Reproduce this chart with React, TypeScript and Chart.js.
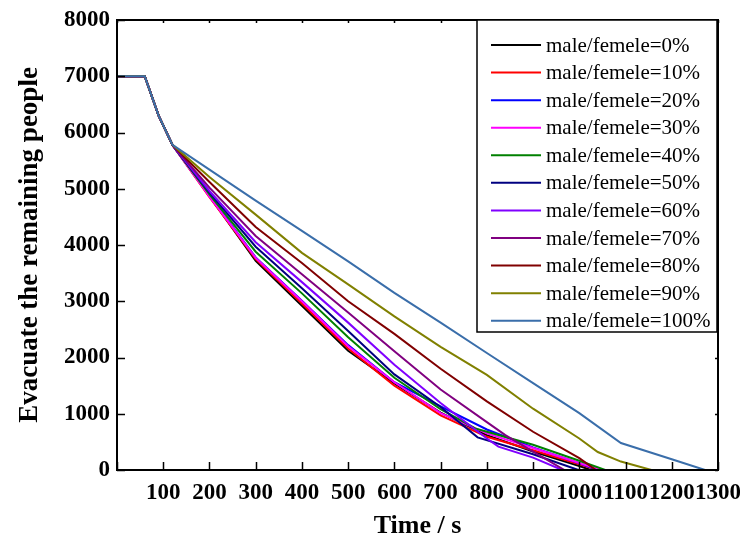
import React, { useEffect, useRef } from "react";
import { Chart, registerables } from "chart.js";

Chart.register(...registerables);

// ---------------- data ----------------
const seriesLabels = [
  "male/femele=0%",
  "male/femele=10%",
  "male/femele=20%",
  "male/femele=30%",
  "male/femele=40%",
  "male/femele=50%",
  "male/femele=60%",
  "male/femele=70%",
  "male/femele=80%",
  "male/femele=90%",
  "male/femele=100%",
];

const seriesColors = [
  "#000000",
  "#FF0000",
  "#0000FF",
  "#FF00FF",
  "#008000",
  "#000080",
  "#8000FF",
  "#800080",
  "#800000",
  "#808000",
  "#3A6EAA",
];

// shared start of every curve (time s, people)
const headTimes = [0, 60, 90, 120];
const headValues = [7000, 7000, 6300, 5780];

const times0 = [200, 300, 400, 500, 600, 700, 800, 900, 1000, 1025];
const values0 = [4870, 3720, 2920, 2120, 1540, 1020, 620, 330, 70, 0];

const times10 = [200, 300, 400, 500, 600, 700, 800, 900, 1000, 1040];
const values10 = [4850, 3750, 2960, 2160, 1500, 970, 590, 350, 100, 0];

const times20 = [200, 300, 400, 500, 600, 700, 800, 900, 1000, 1040];
const values20 = [4880, 3780, 3010, 2220, 1560, 1130, 720, 400, 120, 0];

const times30 = [200, 300, 400, 500, 600, 700, 800, 900, 1000, 1047];
const values30 = [4860, 3770, 3000, 2200, 1560, 1010, 650, 390, 125, 0];

const times40 = [200, 300, 400, 500, 600, 700, 775, 800, 900, 1000, 1056];
const values40 = [4900, 3880, 3140, 2360, 1640, 1080, 740, 680, 450, 165, 0];

const times50 = [200, 300, 400, 500, 600, 700, 780, 900, 998];
const values50 = [4930, 3970, 3230, 2470, 1700, 1120, 580, 280, 0];

const times60 = [200, 300, 400, 500, 600, 700, 800, 825, 900, 963];
const values60 = [4960, 4050, 3340, 2620, 1870, 1190, 560, 415, 220, 0];

const times70 = [200, 300, 400, 500, 600, 700, 800, 840, 900, 968];
const values70 = [5020, 4160, 3480, 2800, 2110, 1430, 850, 620, 326, 0];

const times80 = [200, 300, 400, 500, 600, 700, 800, 900, 1000, 1036];
const values80 = [5120, 4320, 3680, 3000, 2420, 1800, 1220, 680, 210, 0];

const times90 = [200, 300, 400, 500, 600, 700, 800, 900, 1000, 1040, 1090, 1156];
const values90 = [5210, 4540, 3860, 3300, 2730, 2190, 1690, 1090, 560, 320, 150, 0];

const times100 = [200, 300, 400, 500, 600, 700, 800, 900, 1000, 1090, 1200, 1272];
const values100 = [5340, 4790, 4250, 3710, 3150, 2620, 2080, 1545, 1010, 480, 190, 0];

const seriesTimes = [times0, times10, times20, times30, times40, times50, times60, times70, times80, times90, times100];
const seriesValues = [values0, values10, values20, values30, values40, values50, values60, values70, values80, values90, values100];

const xTickValues = [0, 100, 200, 300, 400, 500, 600, 700, 800, 900, 1000, 1100, 1200, 1300];
const yTickValues = [0, 1000, 2000, 3000, 4000, 5000, 6000, 7000, 8000];

const xTitle = "Time / s";
const yTitle = "Evacuate the remaining people";

// ---------------- plugins ----------------
const SERIF = '"Liberation Serif", "Times New Roman", serif';

const framePlugin = {
  id: "frameTicks",
  afterDatasetsDraw(chart: any) {
    const { ctx, chartArea } = chart;
    const xs = chart.scales.x;
    const ys = chart.scales.y;
    const { left, right, top, bottom } = chartArea;
    ctx.save();
    ctx.strokeStyle = "#000";
    ctx.lineWidth = 2;
    ctx.lineCap = "butt";
    ctx.strokeRect(left, top, right - left, bottom - top);
    ctx.lineWidth = 1.5;
    ctx.beginPath();
    xTickValues.forEach((v) => {
      const px = Math.round(xs.getPixelForValue(v)) + 0.5;
      ctx.moveTo(px, bottom);
      ctx.lineTo(px, bottom - 8);
      ctx.moveTo(px, top);
      ctx.lineTo(px, top + 3);
    });
    yTickValues.forEach((v) => {
      const py = Math.round(ys.getPixelForValue(v)) + 0.5;
      ctx.moveTo(left, py);
      ctx.lineTo(left + 8, py);
      ctx.moveTo(right, py);
      ctx.lineTo(right - 3, py);
    });
    ctx.stroke();
    ctx.restore();
  },
};

const legendPlugin = {
  id: "boxLegend",
  afterDatasetsDraw(chart: any) {
    const { ctx, chartArea } = chart;
    const boxW = 240;
    const boxH = 312;
    const bx = chartArea.right - 1 - boxW;
    const by = chartArea.top;
    ctx.save();
    ctx.fillStyle = "#fff";
    ctx.fillRect(bx, by, boxW, boxH);
    ctx.strokeStyle = "#000";
    ctx.lineWidth = 1.5;
    ctx.strokeRect(bx, by, boxW, boxH);
    ctx.font = `21px ${SERIF}`;
    ctx.textBaseline = "middle";
    ctx.textAlign = "left";
    chart.data.datasets.forEach((ds: any, i: number) => {
      const y = by + 25 + i * 27.57;
      ctx.strokeStyle = ds.borderColor;
      ctx.lineWidth = 2;
      ctx.beginPath();
      ctx.moveTo(bx + 14, y);
      ctx.lineTo(bx + 64, y);
      ctx.stroke();
      ctx.fillStyle = "#000";
      ctx.fillText(ds.label, bx + 69, y + 1);
    });
    ctx.restore();
  },
};

export default function App() {
  const canvasRef = useRef<HTMLCanvasElement | null>(null);

  useEffect(() => {
    const canvas = canvasRef.current;
    if (!canvas) return;
    const datasets = seriesLabels.map((label, i) => {
      const ts = headTimes.concat(seriesTimes[i]);
      const vs = headValues.concat(seriesValues[i]);
      return {
        label,
        data: ts.map((t, k) => ({ x: t, y: vs[k] })),
        borderColor: seriesColors[i],
        backgroundColor: seriesColors[i],
        borderWidth: 2,
        pointRadius: 0,
        tension: 0,
        fill: false,
        order: seriesLabels.length - 1 - i,
      };
    });

    const chart = new Chart(canvas, {
      type: "line",
      data: { datasets },
      options: {
        animation: false,
        responsive: false,
        devicePixelRatio: 1,
        layout: { padding: { left: 0, right: 22, top: 20, bottom: 0 } },
        plugins: {
          legend: { display: false },
          tooltip: { enabled: false },
        },
        scales: {
          x: {
            type: "linear",
            min: 0,
            max: 1300,
            afterBuildTicks: (s: any) => {
              s.ticks = xTickValues.map((v) => ({ value: v }));
            },
            afterFit: (s: any) => {
              s.height = 70;
              s.paddingLeft = 0;
              s.paddingRight = 0;
            },
            ticks: {
              autoSkip: false,
              maxRotation: 0,
              minRotation: 0,
              padding: 9,
              color: "#000",
              font: { family: SERIF, size: 23, weight: "bold" },
              callback: (v: any) => (v === 0 ? "" : String(v)),
            },
            grid: { display: false, drawTicks: false },
            border: { display: false },
            title: {
              display: true,
              text: xTitle,
              color: "#000",
              font: { family: SERIF, size: 26, weight: "bold" },
              padding: { top: 0, bottom: -2 },
            },
          },
          y: {
            type: "linear",
            min: 0,
            max: 8000,
            afterBuildTicks: (s: any) => {
              s.ticks = yTickValues.map((v) => ({ value: v }));
            },
            afterFit: (s: any) => {
              s.width = 117;
              s.paddingTop = 0;
              s.paddingBottom = 0;
            },
            ticks: {
              autoSkip: false,
              padding: 7,
              color: "#000",
              font: { family: SERIF, size: 23, weight: "bold" },
              callback: (v: any) => String(v),
            },
            grid: { display: false, drawTicks: false },
            border: { display: false },
            title: {
              display: true,
              text: yTitle,
              color: "#000",
              font: { family: SERIF, size: 27, weight: "bold" },
              padding: { top: 14, bottom: 0 },
            },
          },
        },
      } as any,
      plugins: [framePlugin, legendPlugin],
    });
    return () => chart.destroy();
  }, []);

  return (
    <div style={{ position: "fixed", left: 0, top: 0, width: 740, height: 540, background: "#fff" }}>
      <canvas ref={canvasRef} width={740} height={540} style={{ display: "block" }} />
    </div>
  );
}
